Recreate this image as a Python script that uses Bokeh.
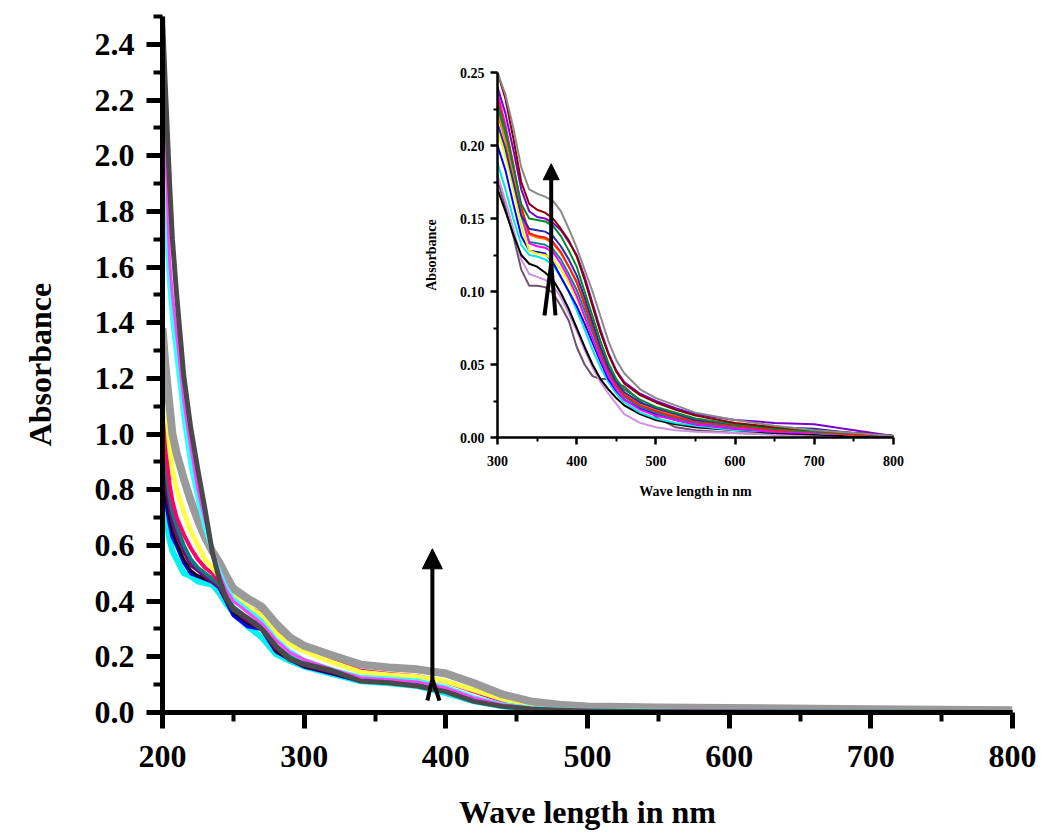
from bokeh.plotting import figure
from bokeh.models import (FixedTicker, PrintfTickFormatter, Arrow, NormalHead,
                          InlineStyleSheet, Range1d)
from bokeh.embed import file_html
from bokeh.resources import INLINE

FONT = "Liberation Serif"

# ---------------- main plot data ----------------
W_MAIN = [200, 202, 205, 207, 210, 215, 220, 225, 230, 235, 240, 245, 250, 260, 270,
          280, 290, 300, 320, 340, 360, 380, 400, 420, 440, 460, 480, 500, 550, 600,
          700, 800]

M_CYAN_LOW = [0.78, 0.70, 0.62, 0.58, 0.55, 0.50, 0.49, 0.47, 0.465, 0.46, 0.43, 0.39, 0.36, 0.31, 0.27,
              0.21, 0.185, 0.165, 0.138, 0.112, 0.105, 0.095, 0.070, 0.040, 0.022, 0.012, 0.008, 0.005, 0.004, 0.003,
              0.002, 0.001]
M_BLUE = [0.85, 0.77, 0.68, 0.63, 0.60, 0.54, 0.50, 0.49, 0.48, 0.47, 0.45, 0.40, 0.35, 0.31, 0.30,
          0.22, 0.19, 0.165, 0.140, 0.113, 0.108, 0.098, 0.078, 0.045, 0.025, 0.014, 0.009, 0.007, 0.005, 0.004,
          0.003, 0.001]
M_BLACK = [0.88, 0.80, 0.70, 0.65, 0.61, 0.55, 0.51, 0.49, 0.48, 0.47, 0.45, 0.40, 0.36, 0.32, 0.30,
           0.22, 0.19, 0.165, 0.140, 0.112, 0.106, 0.096, 0.076, 0.044, 0.024, 0.013, 0.008, 0.006, 0.004, 0.003,
           0.002, 0.001]
M_PURPLE = [0.93, 0.84, 0.74, 0.69, 0.64, 0.58, 0.53, 0.51, 0.49, 0.47, 0.45, 0.41, 0.37, 0.33, 0.30,
            0.23, 0.195, 0.17, 0.145, 0.118, 0.112, 0.102, 0.082, 0.048, 0.027, 0.015, 0.010, 0.008, 0.007, 0.006,
            0.005, 0.002]
M_TEAL = [1.00, 0.90, 0.78, 0.72, 0.67, 0.60, 0.55, 0.52, 0.50, 0.48, 0.46, 0.42, 0.38, 0.34, 0.31,
          0.24, 0.20, 0.175, 0.150, 0.120, 0.115, 0.105, 0.085, 0.050, 0.028, 0.016, 0.010, 0.008, 0.006, 0.004,
          0.003, 0.001]
M_RED = [1.10, 0.97, 0.82, 0.76, 0.70, 0.64, 0.59, 0.55, 0.52, 0.50, 0.47, 0.44, 0.41, 0.38, 0.355,
         0.29, 0.26, 0.235, 0.19, 0.150, 0.138, 0.130, 0.110, 0.075, 0.042, 0.024, 0.015, 0.011, 0.008, 0.006,
         0.004, 0.002]
M_YELLOW = [1.33, 1.15, 0.95, 0.87, 0.80, 0.72, 0.65, 0.60, 0.55, 0.52, 0.49, 0.45, 0.42, 0.38, 0.35,
            0.285, 0.245, 0.22, 0.18, 0.145, 0.135, 0.128, 0.112, 0.080, 0.048, 0.027, 0.017, 0.013, 0.010, 0.008,
            0.005, 0.003]
M_GRAY = [1.38, 1.25, 1.10, 1.00, 0.93, 0.84, 0.76, 0.69, 0.63, 0.58, 0.54, 0.49, 0.445, 0.41, 0.38,
          0.32, 0.27, 0.24, 0.205, 0.172, 0.162, 0.155, 0.14, 0.105, 0.065, 0.040, 0.028, 0.022, 0.018, 0.016,
          0.012, 0.008]
M_CYAN_TOP = [1.92, 1.75, 1.52, 1.40, 1.27, 1.05, 0.88, 0.76, 0.66, 0.58, 0.51, 0.45, 0.41, 0.37, 0.33,
              0.265, 0.22, 0.19, 0.155, 0.128, 0.122, 0.115, 0.092, 0.055, 0.030, 0.017, 0.011, 0.008, 0.006, 0.004,
              0.003, 0.001]
M_MAGENTA = [2.27, 2.05, 1.62, 1.50, 1.36, 1.12, 0.95, 0.80, 0.69, 0.59, 0.50, 0.44, 0.40, 0.36, 0.32,
             0.26, 0.215, 0.19, 0.155, 0.125, 0.118, 0.110, 0.088, 0.052, 0.028, 0.016, 0.010, 0.008, 0.006, 0.005,
             0.004, 0.002]
M_DARKGRAY = [2.50, 2.25, 1.90, 1.70, 1.50, 1.21, 1.02, 0.87, 0.73, 0.58, 0.48, 0.41, 0.37, 0.34, 0.30,
              0.24, 0.19, 0.175, 0.15, 0.113, 0.107, 0.095, 0.075, 0.040, 0.022, 0.013, 0.008, 0.005, 0.003, 0.002,
              0.001, 0.000]

MAIN_X_TICKS = [200, 300, 400, 500, 600, 700, 800]
MAIN_X_MINOR = [250, 350, 450, 550, 650, 750]
MAIN_Y_TICKS = [0.0, 0.2, 0.4, 0.6, 0.8, 1.0, 1.2, 1.4, 1.6, 1.8, 2.0, 2.2, 2.4]
MAIN_Y_MINOR = [0.1, 0.3, 0.5, 0.7, 0.9, 1.1, 1.3, 1.5, 1.7, 1.9, 2.1, 2.3, 2.5]

# arrow (wavelength, fork apex, tip, leg left, leg right, leg bottom)
MAIN_ARROW = dict(x=390.5, apex=0.12, tip=0.588, left=387, right=395.5, bottom=0.043)

# ---------------- inset data ----------------
W_INSET = [300, 310, 320, 330, 340, 350, 360, 370, 380, 390, 400, 410, 420, 430, 440,
           450, 460, 480, 500, 525, 550, 600, 650, 700, 750, 800]

I_PURPLEGRAY = [0.176, 0.158, 0.138, 0.115, 0.104, 0.104, 0.103, 0.099, 0.090, 0.080, 0.062, 0.050, 0.042, 0.040, 0.040,
                0.037, 0.035, 0.025, 0.014, 0.007, 0.005, 0.003, 0.002, 0.001, 0.001, 0.000]
I_LAVENDER = [0.180, 0.162, 0.143, 0.122, 0.112, 0.110, 0.108, 0.104, 0.096, 0.085, 0.073, 0.060, 0.048, 0.038, 0.030,
              0.023, 0.016, 0.010, 0.007, 0.005, 0.004, 0.003, 0.002, 0.001, 0.001, 0.000]
I_BLACK = [0.170, 0.155, 0.139, 0.125, 0.119, 0.117, 0.113, 0.108, 0.099, 0.088, 0.075, 0.062, 0.050, 0.040, 0.033,
           0.027, 0.022, 0.016, 0.012, 0.009, 0.007, 0.005, 0.003, 0.002, 0.001, 0.000]
I_CYAN = [0.188, 0.170, 0.150, 0.132, 0.125, 0.124, 0.122, 0.118, 0.110, 0.100, 0.087, 0.074, 0.060, 0.048, 0.038,
          0.030, 0.024, 0.017, 0.013, 0.010, 0.008, 0.005, 0.004, 0.003, 0.002, 0.001]
I_BLUE = [0.200, 0.183, 0.160, 0.138, 0.128, 0.127, 0.126, 0.120, 0.110, 0.100, 0.090, 0.078, 0.065, 0.052, 0.040,
          0.032, 0.026, 0.020, 0.016, 0.012, 0.009, 0.006, 0.004, 0.003, 0.002, 0.001]
I_YELLOW = [0.210, 0.193, 0.170, 0.145, 0.128, 0.126, 0.125, 0.122, 0.115, 0.106, 0.095, 0.082, 0.068, 0.055, 0.043,
            0.034, 0.028, 0.022, 0.018, 0.014, 0.011, 0.007, 0.005, 0.003, 0.002, 0.001]
I_TEAL = [0.226, 0.206, 0.180, 0.152, 0.134, 0.133, 0.132, 0.129, 0.122, 0.112, 0.101, 0.087, 0.072, 0.057, 0.044,
          0.035, 0.028, 0.021, 0.017, 0.013, 0.010, 0.007, 0.005, 0.003, 0.002, 0.001]
I_MAGENTA = [0.236, 0.214, 0.186, 0.155, 0.133, 0.131, 0.130, 0.127, 0.119, 0.109, 0.097, 0.083, 0.068, 0.054, 0.042,
             0.033, 0.026, 0.019, 0.015, 0.012, 0.009, 0.006, 0.004, 0.003, 0.002, 0.001]
I_ORANGE = [0.222, 0.203, 0.180, 0.155, 0.139, 0.137, 0.136, 0.133, 0.126, 0.117, 0.107, 0.093, 0.077, 0.061, 0.047,
            0.037, 0.030, 0.023, 0.019, 0.015, 0.012, 0.008, 0.006, 0.004, 0.002, 0.001]
I_RED = [0.232, 0.212, 0.187, 0.158, 0.140, 0.138, 0.137, 0.134, 0.127, 0.117, 0.106, 0.091, 0.075, 0.059, 0.046,
         0.036, 0.029, 0.022, 0.018, 0.014, 0.011, 0.008, 0.005, 0.004, 0.002, 0.001]
I_NAVY = [0.215, 0.198, 0.175, 0.152, 0.143, 0.142, 0.141, 0.138, 0.131, 0.122, 0.111, 0.096, 0.079, 0.062, 0.048,
          0.038, 0.031, 0.024, 0.020, 0.016, 0.012, 0.009, 0.007, 0.006, 0.003, 0.001]
I_GREEN = [0.228, 0.210, 0.185, 0.160, 0.150, 0.149, 0.148, 0.145, 0.138, 0.128, 0.117, 0.100, 0.083, 0.066, 0.051,
           0.040, 0.033, 0.026, 0.021, 0.017, 0.013, 0.009, 0.006, 0.004, 0.003, 0.001]
I_PURPLE = [0.240, 0.222, 0.197, 0.170, 0.155, 0.151, 0.150, 0.147, 0.142, 0.134, 0.125, 0.110, 0.092, 0.074, 0.058,
            0.046, 0.038, 0.030, 0.025, 0.020, 0.016, 0.012, 0.010, 0.009, 0.005, 0.001]
I_DARKRED = [0.250, 0.232, 0.205, 0.175, 0.160, 0.156, 0.154, 0.150, 0.143, 0.135, 0.124, 0.108, 0.090, 0.072, 0.057,
             0.045, 0.037, 0.029, 0.024, 0.019, 0.015, 0.010, 0.007, 0.005, 0.003, 0.001]
I_GRAY = [0.250, 0.235, 0.212, 0.185, 0.170, 0.167, 0.165, 0.162, 0.155, 0.143, 0.130, 0.115, 0.100, 0.083, 0.066,
          0.053, 0.044, 0.033, 0.027, 0.022, 0.017, 0.012, 0.008, 0.005, 0.003, 0.001]

INSET_X_TICKS = [300, 400, 500, 600, 700, 800]
INSET_X_MINOR = [350, 450, 550, 650, 750]
INSET_Y_TICKS = [0.00, 0.05, 0.10, 0.15, 0.20, 0.25]
INSET_Y_MINOR = [0.025, 0.075, 0.125, 0.175, 0.225]

INSET_ARROW = dict(x=367.8, apex=0.119, tip=0.1875, left=359.3, right=373.2, bottom=0.0836)

# ---------------- main figure ----------------
p = figure(frame_width=850, frame_height=696,
           min_border_left=162, min_border_right=28, min_border_top=16, min_border_bottom=118,
           x_range=Range1d(200, 800), y_range=Range1d(0, 2.5),
           output_backend="svg", toolbar_location=None)
p.grid.visible = False
p.outline_line_color = None
p.background_fill_color = "white"
p.border_fill_color = "white"

main_series = [
    (M_CYAN_LOW, "#00f2f2", 6),
    (M_BLUE, "#0000ff", 4),
    (M_BLACK, "#111111", 3),
    (M_PURPLE, "#800080", 4),
    (M_TEAL, "#008080", 4),
    (M_RED, "#ff0066", 4),
    (M_YELLOW, "#ffff4a", 5),
    (M_GRAY, "#9a9a9a", 8),
    (M_CYAN_TOP, "#33ffff", 4),
    (M_MAGENTA, "#ff44ff", 3),
    (M_DARKGRAY, "#4a4a4a", 5),
]
for ys, col, lw in main_series:
    p.line(W_MAIN, ys, line_color=col, line_width=lw, line_join="round")

for ax in (p.xaxis[0], p.yaxis[0]):
    ax.axis_line_width = 5
    ax.major_tick_line_width = 5
    ax.major_tick_out = 16
    ax.major_tick_in = 0
    ax.minor_tick_out = 9
    ax.minor_tick_in = 0
    ax.minor_tick_line_width = 4
    ax.major_label_text_font = FONT
    ax.major_label_text_font_style = "bold"
    ax.major_label_text_font_size = "32px"
    ax.major_label_text_color = "black"
    ax.major_label_standoff = 12
    ax.axis_label_text_font = FONT
    ax.axis_label_text_font_style = "bold"
    ax.axis_label_text_font_size = "32px"
    ax.axis_label_text_color = "black"

p.xaxis.major_label_standoff = 17
p.xaxis.ticker = FixedTicker(ticks=MAIN_X_TICKS, minor_ticks=MAIN_X_MINOR)
p.yaxis.ticker = FixedTicker(ticks=MAIN_Y_TICKS, minor_ticks=MAIN_Y_MINOR)
p.yaxis.formatter = PrintfTickFormatter(format="%.1f")
p.xaxis.axis_label = "Wave length in nm"
p.yaxis.axis_label = "Absorbance"
p.xaxis.axis_label_standoff = 24
p.yaxis.axis_label_standoff = 34

a = MAIN_ARROW
p.add_layout(Arrow(end=NormalHead(size=20, fill_color="black", line_color="black", line_width=1),
                   x_start=a["x"], y_start=a["apex"], x_end=a["x"], y_end=a["tip"],
                   line_width=4, line_color="black"))
p.segment(x0=[a["x"], a["x"]], y0=[a["apex"], a["apex"]], x1=[a["left"], a["right"]],
          y1=[a["bottom"], a["bottom"]], line_width=4, line_color="black")

# ---------------- inset figure ----------------
inset = figure(frame_width=396, frame_height=365,
               min_border_left=90, min_border_right=15, min_border_top=10, min_border_bottom=70,
               x_range=Range1d(300, 800), y_range=Range1d(0, 0.25),
               output_backend="svg", toolbar_location=None,
               stylesheets=[InlineStyleSheet(css=":host { position: absolute !important; left: 407px !important; top: 62px !important; z-index: 5; }")])
inset.grid.visible = False
inset.outline_line_color = None
inset.background_fill_alpha = 0
inset.border_fill_alpha = 0

inset_series = [
    (I_PURPLEGRAY, "#705070"),
    (I_LAVENDER, "#d090e0"),
    (I_BLACK, "#000000"),
    (I_CYAN, "#00e5e5"),
    (I_BLUE, "#0000ff"),
    (I_YELLOW, "#f5f500"),
    (I_TEAL, "#008b8b"),
    (I_MAGENTA, "#ff00ff"),
    (I_ORANGE, "#ff7f00"),
    (I_RED, "#ff1a1a"),
    (I_NAVY, "#2a2ab0"),
    (I_GREEN, "#008a30"),
    (I_PURPLE, "#7a00d0"),
    (I_DARKRED, "#8b0000"),
    (I_GRAY, "#8a8a8a"),
]
for ys, col in inset_series:
    inset.line(W_INSET, ys, line_color=col, line_width=2, line_join="round")

for ax in (inset.xaxis[0], inset.yaxis[0]):
    ax.axis_line_width = 2.5
    ax.major_tick_line_width = 2.5
    ax.major_tick_out = 7
    ax.major_tick_in = 0
    ax.minor_tick_out = 4
    ax.minor_tick_in = 0
    ax.minor_tick_line_width = 2
    ax.major_label_text_font = FONT
    ax.major_label_text_font_style = "bold"
    ax.major_label_text_font_size = "14px"
    ax.major_label_text_color = "black"
    ax.major_label_standoff = 6
    ax.axis_label_text_font = FONT
    ax.axis_label_text_font_style = "bold"
    ax.axis_label_text_font_size = "14px"
    ax.axis_label_text_color = "black"

inset.xaxis.major_label_standoff = 11
inset.xaxis.ticker = FixedTicker(ticks=INSET_X_TICKS, minor_ticks=INSET_X_MINOR)
inset.yaxis.ticker = FixedTicker(ticks=INSET_Y_TICKS, minor_ticks=INSET_Y_MINOR)
inset.yaxis.formatter = PrintfTickFormatter(format="%.2f")
inset.xaxis.axis_label = "Wave length in nm"
inset.yaxis.axis_label = "Absorbance"
inset.xaxis.axis_label_standoff = 15
inset.yaxis.axis_label_standoff = 18

b = INSET_ARROW
inset.add_layout(Arrow(end=NormalHead(size=16, fill_color="black", line_color="black", line_width=1),
                       x_start=b["x"], y_start=b["apex"], x_end=b["x"], y_end=b["tip"],
                       line_width=4, line_color="black"))
inset.segment(x0=[b["x"], b["x"]], y0=[b["apex"], b["apex"]], x1=[b["left"], b["right"]],
              y1=[b["bottom"], b["bottom"]], line_width=4, line_color="black")

open("out.html", "w").write(file_html([p, inset], INLINE))
